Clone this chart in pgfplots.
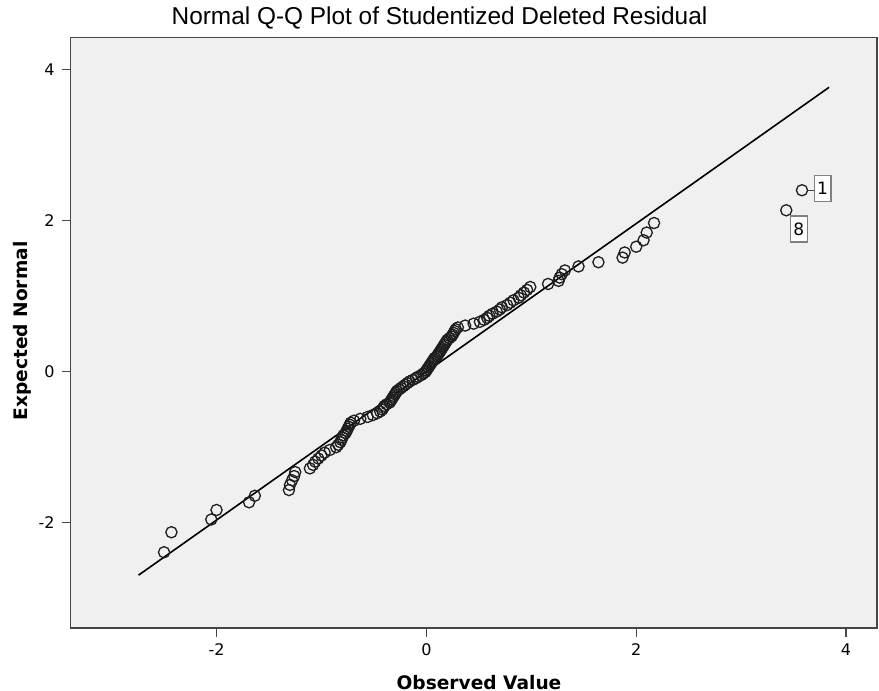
\documentclass[border=0pt]{standalone}
\usepackage{fontspec}
\setmainfont{Liberation Sans}
\newfontfamily\dejavu{DejaVu Sans}
\usepackage{pgfplots}
\usepackage{pgfplotstable}
\pgfplotsset{compat=1.18}
\definecolor{bg}{RGB}{240,240,240}
\definecolor{framec}{RGB}{70,70,70}
\definecolor{mk}{RGB}{30,30,30}
\pgfplotstableread{
obs expected
-2.50 -2.397
-2.43 -2.132
-2.05 -1.963
-2.00 -1.837
-1.69 -1.735
-1.635 -1.649
-1.31 -1.573
-1.30 -1.505
-1.28 -1.444
-1.26 -1.388
-1.25 -1.335
-1.11 -1.286
-1.08 -1.240
-1.06 -1.197
-1.03 -1.156
-1.00 -1.116
-0.97 -1.078
-0.92 -1.042
-0.86 -1.006
-0.84 -0.973
-0.82 -0.940
-0.81 -0.908
-0.80 -0.877
-0.79 -0.847
-0.77 -0.818
-0.76 -0.790
-0.75 -0.762
-0.74 -0.734
-0.73 -0.708
-0.72 -0.681
-0.69 -0.655
-0.63 -0.630
-0.56 -0.605
-0.51 -0.580
-0.47 -0.556
-0.44 -0.532
-0.42 -0.508
-0.41 -0.484
-0.40 -0.461
-0.38 -0.438
-0.35 -0.415
-0.34 -0.393
-0.33 -0.371
-0.32 -0.349
-0.31 -0.327
-0.30 -0.305
-0.29 -0.284
-0.28 -0.262
-0.26 -0.241
-0.24 -0.220
-0.22 -0.199
-0.20 -0.177
-0.18 -0.156
-0.16 -0.135
-0.13 -0.114
-0.10 -0.093
-0.08 -0.073
-0.05 -0.052
-0.03 -0.031
-0.01 -0.010
0.00 0.010
0.01 0.031
0.02 0.052
0.03 0.073
0.04 0.093
0.05 0.114
0.06 0.135
0.07 0.156
0.08 0.177
0.10 0.199
0.11 0.220
0.12 0.241
0.13 0.262
0.14 0.284
0.15 0.305
0.16 0.327
0.17 0.349
0.18 0.371
0.19 0.393
0.20 0.415
0.22 0.438
0.24 0.461
0.25 0.484
0.26 0.508
0.27 0.532
0.28 0.556
0.30 0.580
0.37 0.605
0.45 0.630
0.51 0.655
0.55 0.681
0.58 0.708
0.60 0.734
0.63 0.762
0.67 0.790
0.70 0.818
0.72 0.847
0.77 0.877
0.80 0.908
0.83 0.940
0.88 0.973
0.90 1.006
0.93 1.042
0.96 1.078
0.99 1.116
1.16 1.156
1.26 1.197
1.27 1.240
1.29 1.286
1.32 1.335
1.45 1.388
1.64 1.444
1.87 1.505
1.89 1.573
2.00 1.649
2.07 1.735
2.10 1.837
2.17 1.963
3.43 2.132
3.58 2.397
}\qqdata
\begin{document}
\begin{tikzpicture}
\begin{axis}[
  at={(0,0)}, anchor=south west,
  scale only axis, width=403.15pt, height=295.25pt,
  xmin=-3.39, xmax=4.295, ymin=-3.40, ymax=4.42,
  axis background/.style={fill=bg},
  axis line style={framec, line width=0.7pt},
  xtick={-2,0,2,4}, xticklabels={-2,0,2,4},
  ytick={-2,0,2,4}, yticklabels={-2,0,2,4},
  tick align=outside, xtick pos=bottom, ytick pos=left,
  major tick length=4.5pt,
  tick style={framec, line width=0.7pt},
  tick label style={font=\dejavu\fontsize{8}{9}\selectfont, text=black},
  xlabel={Observed Value},
  ylabel={Expected Normal},
  xlabel style={at={(axis description cs:0.5064,-0.092)}, anchor=center, font=\dejavu\bfseries\fontsize{9.3}{11}\selectfont},
  ylabel style={at={(axis description cs:-0.0604,0.503)}, anchor=center, rotate=0, font=\dejavu\bfseries\fontsize{9.3}{11}\selectfont},
]
\addplot[black, line width=0.8pt] coordinates {(-2.743,-2.70) (3.838,3.76)};
\addplot[only marks, mark=o, mark size=2.8pt, mark options={draw=mk, line width=0.65pt, fill=none}] table[x=obs, y=expected] {\qqdata};
\draw[framec, line width=0.6pt] (axis cs:3.635,2.397) -- (axis cs:3.705,2.397);
\node[draw=gray, fill=white, line width=0.6pt, inner sep=1.5pt, minimum width=8pt, minimum height=13pt, font=\dejavu\fontsize{8.5}{9}\selectfont] at (axis cs:3.776,2.42) {1};
\node[draw=gray, fill=white, line width=0.6pt, inner sep=1.5pt, minimum width=8pt, minimum height=13pt, font=\dejavu\fontsize{8.5}{9}\selectfont] at (axis cs:3.55,1.885) {8};
\end{axis}
\node[anchor=center, font=\fontsize{12.2}{14}\selectfont] at (184.4pt,305pt) {Normal Q-Q Plot of Studentized Deleted Residual};
\pgfresetboundingbox
\path (-35.35pt,-31.5pt) rectangle (404.15pt,314pt);
\end{tikzpicture}
\end{document}
